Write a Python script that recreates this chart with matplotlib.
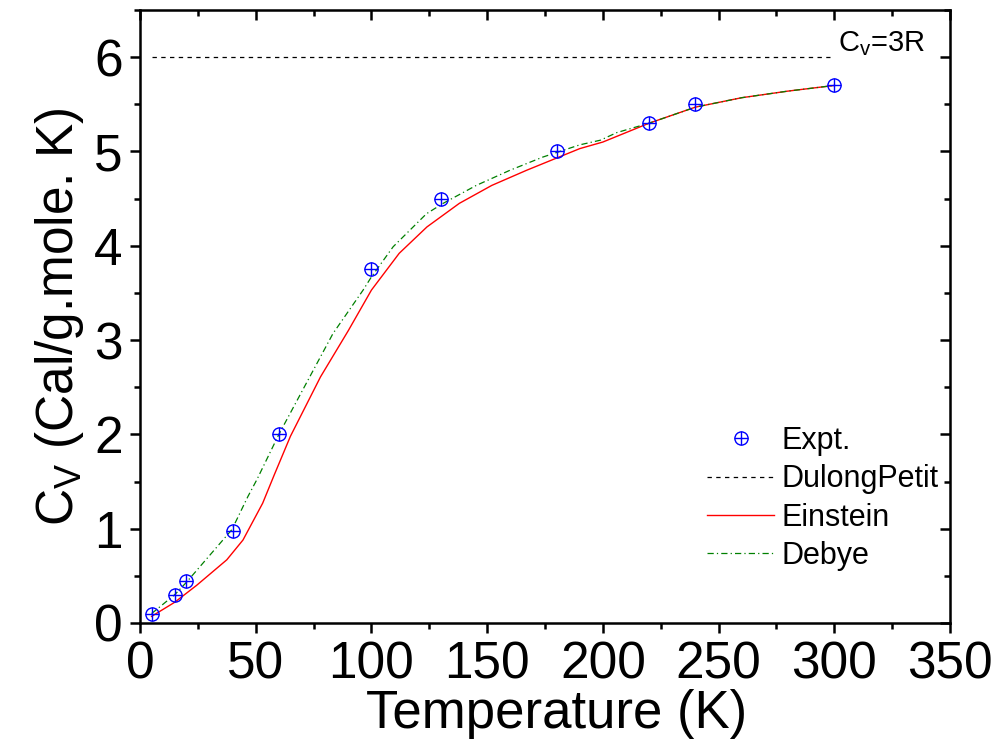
import numpy as np
import matplotlib
matplotlib.use('Agg')
import matplotlib.pyplot as plt
from matplotlib.ticker import MultipleLocator

plt.rcParams['font.family'] = ['Liberation Sans', 'DejaVu Sans']
plt.rcParams['mathtext.default'] = 'regular'

# Experimental points
T_expt = [5, 15, 20, 40, 60, 100, 130, 180, 220, 240, 300]
Cv_expt = [0.1, 0.3, 0.45, 0.98, 2.0, 3.75, 4.5, 5.0, 5.3, 5.5, 5.7]

# Dulong-Petit limit
T_dp = [5, 298]
Cv_dp = [6.0, 6.0]

# Einstein model
T_ein = [5, 15, 24.5, 37.5, 44.5, 53, 58, 65, 78, 90, 100, 112, 124, 138,
         152, 167, 181, 190, 200, 220, 240, 260, 280, 300]
Cv_ein = [0.07, 0.22, 0.4, 0.67, 0.88, 1.27, 1.57, 1.98, 2.61, 3.1, 3.53,
          3.92, 4.2, 4.45, 4.64, 4.8, 4.94, 5.03, 5.1, 5.3, 5.47, 5.57,
          5.64, 5.7]

# Debye model
T_deb = [5, 15, 20, 39.7, 46.6, 50.5, 60, 83.4, 96.4, 100, 109.4, 123.8,
         131, 145.3, 159.8, 174, 190, 199, 206, 220, 240, 260, 280, 300]
Cv_deb = [0.1, 0.3, 0.43, 0.99, 1.34, 1.52, 2.0, 3.07, 3.53, 3.67, 3.99,
          4.34, 4.45, 4.64, 4.8, 4.94, 5.07, 5.12, 5.2, 5.3, 5.47, 5.57,
          5.64, 5.7]

fig = plt.figure(figsize=(9.94, 7.43), dpi=100)
ax = fig.add_axes([140/994, 1-623/743, 810/994, 613/743])

ax.plot(T_dp, Cv_dp, color='black', lw=0.9, ls=(0, (3.5, 3.5)), label='DulongPetit')
ax.plot(T_ein, Cv_ein, color='red', lw=1.0, label='Einstein')
ax.plot(T_deb, Cv_deb, color='green', lw=0.9, ls=(0, (5, 2.5, 1, 2.5)), label='Debye')
h_o, = ax.plot(T_expt, Cv_expt, ls='none', marker='o', ms=9.5, mfc='none',
               mec='blue', mew=1.0)
h_p, = ax.plot(T_expt, Cv_expt, ls='none', marker='+', ms=9.5, mec='blue', mew=1.0)

fig.text(838/994, 1-44/743, 'C$_v$=3R', fontsize=21, va='center', ha='left')

ax.set_xlim(0, 350)
ax.set_ylim(0, 6.5)
ax.xaxis.set_major_locator(MultipleLocator(50))
ax.xaxis.set_minor_locator(MultipleLocator(25))
ax.yaxis.set_major_locator(MultipleLocator(1))
ax.yaxis.set_minor_locator(MultipleLocator(0.5))
ax.tick_params(which='both', direction='out', width=1.8, labelsize=37, pad=5)
ax.tick_params(which='major', length=7.5)
ax.tick_params(which='minor', length=4)
for s in ax.spines.values():
    s.set_linewidth(1.8)

# top and right ticks point inward
top = ax.secondary_xaxis('top')
top.xaxis.set_major_locator(MultipleLocator(50))
top.xaxis.set_minor_locator(MultipleLocator(25))
top.tick_params(which='both', direction='in', width=1.8, labeltop=False)
top.tick_params(which='major', length=7.5)
top.tick_params(which='minor', length=4)
right = ax.secondary_yaxis('right')
right.yaxis.set_major_locator(MultipleLocator(1))
right.yaxis.set_minor_locator(MultipleLocator(0.5))
right.tick_params(which='both', direction='in', width=1.8, labelright=False)
right.tick_params(which='major', length=7.5)
right.tick_params(which='minor', length=4)

ax.set_xlabel('Temperature (K)', fontsize=38, labelpad=0)
ax.xaxis.label.set_x(0.514)
ax.set_ylabel('C$_V$ (Cal/g.mole. K)', fontsize=37, labelpad=6)

handles, labels = ax.get_legend_handles_labels()
leg = ax.legend([(h_o, h_p)] + handles, ['Expt.'] + labels,
                loc='upper left', bbox_to_anchor=(707/994, 1-426/743),
                bbox_transform=fig.transFigure, frameon=False, fontsize=22,
                handlelength=2.2, handletextpad=0.25, labelspacing=0.27,
                borderpad=0, borderaxespad=0)

fig.savefig('out.png', dpi=100)
